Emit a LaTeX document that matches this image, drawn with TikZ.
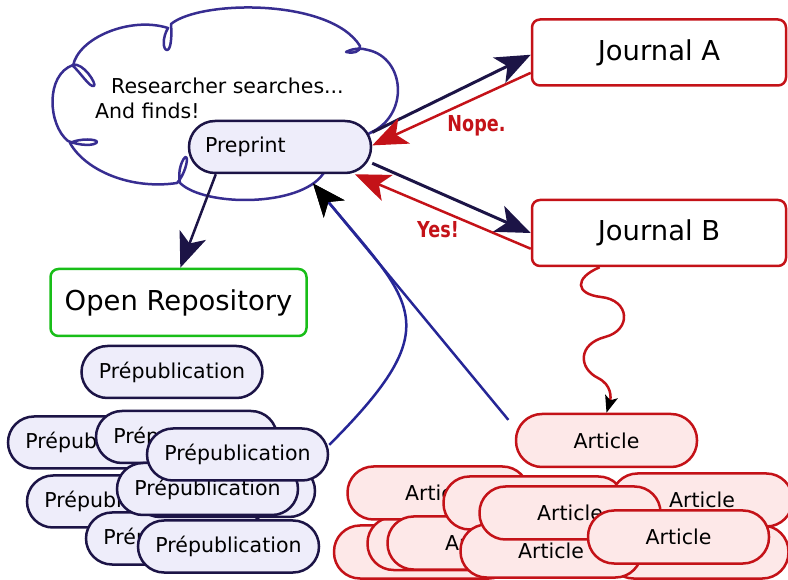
\documentclass[tikz,border=0pt]{standalone}
\usepackage{fontspec}
\setmainfont{DejaVu Sans}
\newfontfamily\tagfont{DejaVu Sans}[FakeStretch=0.8]
\usetikzlibrary{arrows.meta}

\definecolor{ink}{RGB}{28,20,70}
\definecolor{lav}{RGB}{238,237,250}
\definecolor{jred}{RGB}{196,18,24}
\definecolor{pinkfill}{RGB}{253,232,232}
\definecolor{repgreen}{RGB}{24,190,24}
\definecolor{cloudblue}{RGB}{55,45,145}
\definecolor{linkblue}{RGB}{38,38,150}

\begin{document}
\begin{tikzpicture}[x=1pt,y=1pt,
  txt/.style={font=\fontsize{20.5}{24}\selectfont},
  pill/.style={rectangle, rounded corners=26pt, line width=2.5pt,
    minimum width=181pt, minimum height=52pt, inner sep=0pt, txt},
  pubnode/.style={pill, draw=ink, fill=lav},
  artnode/.style={pill, draw=jred, fill=pinkfill, minimum height=53pt},
  venue/.style={rectangle, rounded corners=8pt, line width=2.5pt, fill=white,
    minimum width=254pt, minimum height=66pt, font=\fontsize{27.4}{32}\selectfont},
  bigtip/.style={-{Stealth[length=35pt,width=28pt,inset=9pt]}},
  blacktip/.style={-{Stealth[length=33pt,width=27pt,inset=9pt,color=black]}},
  smalltip/.style={-{Stealth[length=17pt,width=13pt,inset=4pt,color=black]}},
  tag/.style={text=jred, font=\tagfont\bfseries\fontsize{22}{26}\selectfont, inner sep=0pt},
]
\useasboundingbox (0,0) rectangle (788,579);
\clip (0,0) rectangle (788,579);

% thought cloud around the preprint
\draw[cloudblue, line width=2.5pt, line join=round]
  (73,513) .. controls (78,541) and (130,563) .. (168,551)
  .. controls (162,541) and (163,529) .. (167,529)
  .. controls (171,529) and (172,543) .. (171,555)
  .. controls (200,579) and (330,581) .. (360,533)
  .. controls (361,527) and (352,525) .. (346,527)
  .. controls (353,531) and (362,531) .. (368,529)
  .. controls (405,521) and (410,464) .. (370,446)
  -- (345,430) -- (323,405)
  .. controls (300,372) and (205,372) .. (180,396)
  .. controls (177,408) and (183,422) .. (186,422)
  .. controls (189,420) and (184,403) .. (177,396)
  .. controls (130,389) and (85,409) .. (70,436)
  .. controls (80,441) and (97,440) .. (97,437)
  .. controls (95,433) and (80,433) .. (68,438)
  .. controls (48,454) and (45,504) .. (73,514)
  .. controls (83,517) and (97,495) .. (94,493)
  .. controls (90,491) and (80,507) .. (73,513);

\node[txt, anchor=base west, inner sep=0pt] (search) at (111,485.5) {Researcher searches...};
\node[txt, anchor=base west, inner sep=0pt] (finds) at (95,460) {And finds!};

\node[pubnode, minimum width=182pt, text width=150pt, inner xsep=16pt, align=left] (pre) at (280,432) {Preprint};

% venues
\node[venue, draw=jred] (ja) at (659,526.5) {Journal A};
\node[venue, draw=jred] (jb) at (659,346) {Journal B};
\node[venue, draw=repgreen, minimum width=256pt, minimum height=67pt] (repo) at (178.5,276.5) {Open Repository};

% open repository pile
\node[pubnode] (ptop) at (172,207) {Prépublication};
\node[pubnode] (p1) at (98.5,136.5) {Prépublication};
\node[pubnode] (p2) at (186.5,142) {Prépublication};
\node[pubnode] (p4) at (117.5,77.5) {Prépublication};
\node[pubnode] (p6) at (176.5,40.5) {Prépublication};
\node[pubnode] (p5a) at (224.5,88) {Prépublication};
\node[pubnode] (p5b) at (207.5,90) {Prépublication};
\node[pubnode] (p3) at (237.5,124.5) {Prépublication};
\node[pubnode] (p7) at (228.5,32.5) {Prépublication};

% journal pile
\node[artnode] (art) at (606.5,138.5) {Article};
\node[artnode] (a10) at (698,27) {Article};
\node[artnode] (a9) at (424.5,27) {Article};
\node[artnode] (a8) at (458,35.5) {Article};
\node[artnode] (a1) at (438,86) {Article};
\node[artnode] (a7) at (478,36) {Article};
\node[artnode] (a2) at (534,76) {Article};
\node[artnode] (a6) at (551,28) {Article};
\node[artnode] (a4) at (702,79) {Article};
\node[artnode] (a3) at (570,66) {Article};
\node[artnode] (a5) at (678.5,42) {Article};

% submissions and replies
\draw[ink, line width=3pt, bigtip] (pre.9) -- (ja.181);
\draw[jred, line width=2.5pt, bigtip] (ja.189) -- (pre.1);
\draw[ink, line width=3pt, bigtip] (pre.-10) -- (jb.west);
\draw[jred, line width=2.5pt, bigtip] (jb.187) -- (pre.-20);
\draw[ink, line width=2.5pt, bigtip] (pre.-157) -- (repo.87);

% found by the researcher
\draw[linkblue, line width=2.5pt, blacktip, shorten >=12pt]
  (p3.6) to[out=45, in=-50.3, looseness=1.6] (pre.-47.5);
\draw[linkblue, line width=2.5pt, blacktip, shorten <=10pt, shorten >=12pt]
  (art.172) -- (pre.-47.5);

% publication
\draw[jred, line width=2.5pt, smalltip]
  (jb.-150) .. controls (574,301) and (575,285) .. (601,282)
  .. controls (630,279) and (632,249) .. (605,242)
  .. controls (578,235) and (578,211) .. (598,201)
  .. controls (612,194) and (611,181) .. (art.north);

\node[tag, anchor=base] (nope) at (476.5,447) {Nope.};
\node[tag, anchor=base] (yes) at (438,341) {Yes!};
\end{tikzpicture}
\end{document}
